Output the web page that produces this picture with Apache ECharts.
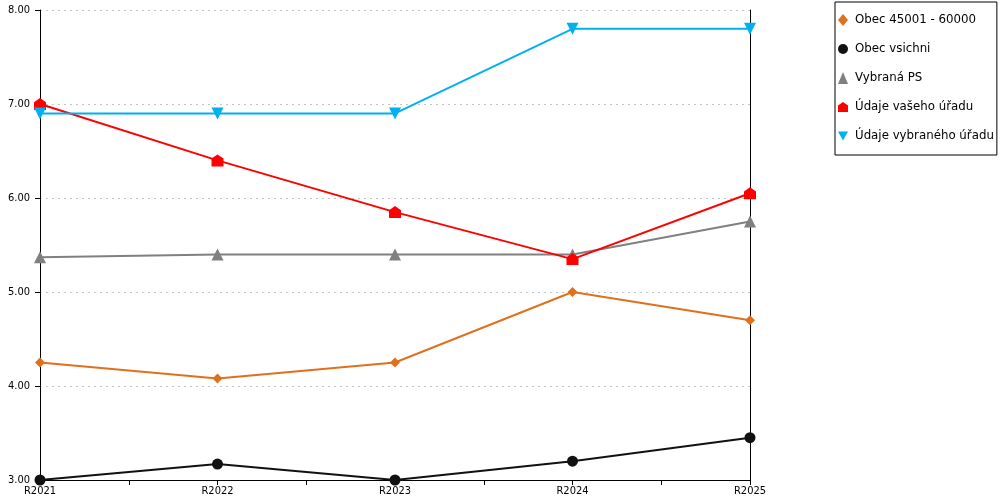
<!DOCTYPE html>
<html>
<head>
<meta charset="utf-8">
<script src="https://cdn.jsdelivr.net/npm/echarts@6/dist/echarts.min.js"></script>
<style>
    html, body { margin: 0; padding: 0; background: #fff; }
    #chart { width: 1000px; height: 500px; }
</style>
</head>
<body>
<div id="chart"></div>
<script>
var years = ['R2021', 'R2022', 'R2023', 'R2024', 'R2025'];

var seriesNames = ['Obec 45001 - 60000', 'Obec vsichni', 'Vybraná PS', 'Údaje vašeho úřadu', 'Údaje vybraného úřadu'];

var obec45001 = [4.25, 4.08, 4.25, 5.00, 4.70];
var obecVsichni = [3.00, 3.17, 3.00, 3.20, 3.45];
var vybranaPS = [5.37, 5.40, 5.40, 5.40, 5.75];
var vasUrad = [7.00, 6.40, 5.85, 5.35, 6.05];
var vybranyUrad = [6.90, 6.90, 6.90, 7.80, 7.80];

var yTicks = [3, 4, 5, 6, 7, 8];

var housePath = 'path://M0,-10 L10,-3 L10,10 L-10,10 L-10,-3 Z';

var element = document.getElementById('chart');
var myChart = echarts.init(element);

function toPoints(values) {
    return values.map(function (v, i) {
        return [i, v];
    });
}

function makeSeries(name, values, color, symbol, size, rotate) {
    return {
        name: name,
        type: 'line',
        data: toPoints(values),
        symbol: symbol,
        symbolSize: size,
        symbolRotate: rotate || 0,
        showAllSymbol: true,
        lineStyle: { color: color, width: 2 },
        itemStyle: { color: color },
        emphasis: { disabled: true }
    };
}

var axisFont = 'DejaVu Sans Condensed';
var legendFont = 'DejaVu Sans';

var option = {
    animation: false,
    backgroundColor: '#fff',
    grid: {
        left: 40,
        right: 250,
        top: 10,
        bottom: 20,
        containLabel: false
    },
    legend: {
        orient: 'vertical',
        left: 835,
        top: 2,
        padding: [12, 3, 13, 3],
        itemWidth: 10,
        itemHeight: 12,
        itemGap: 17,
        borderColor: '#000',
        borderWidth: 1,
        borderRadius: 0,
        textStyle: { fontFamily: legendFont, fontSize: 11.8, color: '#000', padding: [0, 0, 0, 2] },
        selectedMode: false,
        data: [
            { name: seriesNames[0], icon: 'diamond' },
            { name: seriesNames[1], icon: 'circle' },
            { name: seriesNames[2], icon: 'triangle' },
            { name: seriesNames[3], icon: housePath },
            { name: seriesNames[4], icon: 'path://M-10,-9 L10,-9 L0,9 Z' }
        ]
    },
    xAxis: {
        type: 'value',
        min: 0,
        max: years.length - 1,
        interval: 0.5,
        axisLine: { show: true, lineStyle: { color: '#000', width: 1 } },
        axisTick: { show: true, length: 5, lineStyle: { color: '#000' } },
        splitLine: { show: false },
        axisLabel: {
            margin: 6,
            fontFamily: axisFont,
            fontSize: 11,
            color: '#000',
            showMinLabel: true,
            showMaxLabel: true,
            formatter: function (v) {
                return Number.isInteger(v) ? years[v] : '';
            }
        }
    },
    yAxis: [
        {
            type: 'value',
            min: yTicks[0],
            max: yTicks[yTicks.length - 1],
            interval: 1,
            axisLine: { show: true, lineStyle: { color: '#000', width: 1 } },
            axisTick: { show: true, length: 5, lineStyle: { color: '#000' } },
            splitLine: {
                show: true,
                lineStyle: { color: '#c4c4c4', type: [2, 4], width: 1 }
            },
            axisLabel: {
                margin: 10,
                fontFamily: axisFont,
                fontSize: 11,
                color: '#000',
                formatter: function (v) {
                    return v.toFixed(2);
                }
            }
        },
        {
            type: 'value',
            position: 'right',
            min: yTicks[0],
            max: yTicks[yTicks.length - 1],
            interval: 1,
            axisLine: { show: true, lineStyle: { color: '#000', width: 1 } },
            axisTick: { show: false },
            axisLabel: { show: false },
            splitLine: { show: false }
        }
    ],
    series: [
        makeSeries(seriesNames[0], obec45001, '#E0701E', 'diamond', 10),
        makeSeries(seriesNames[1], obecVsichni, '#111111', 'circle', 11),
        makeSeries(seriesNames[2], vybranaPS, '#808080', 'triangle', 12),
        makeSeries(seriesNames[3], vasUrad, '#FF0000', housePath, 12),
        makeSeries(seriesNames[4], vybranyUrad, '#00B0F0', 'triangle', 12, 180)
    ]
};

myChart.setOption(option);
</script>
</body>
</html>
